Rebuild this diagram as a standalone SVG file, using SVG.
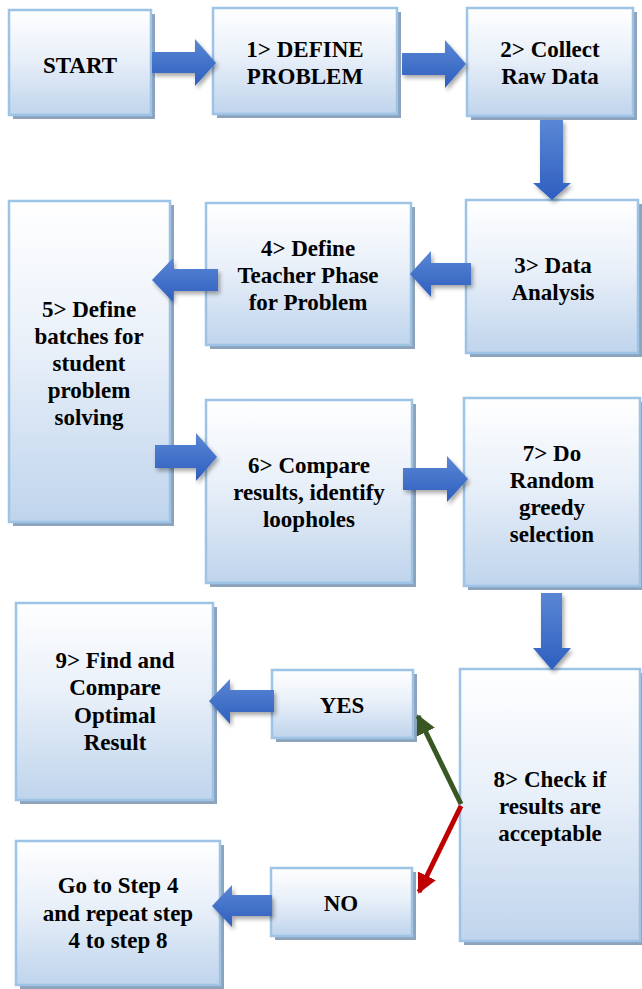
<svg xmlns="http://www.w3.org/2000/svg" width="642" height="989" viewBox="0 0 642 989" font-family="Liberation Serif, Tinos, Noto Serif, DejaVu Serif, Times New Roman, Times, serif">
<defs>
<linearGradient id="boxg" x1="0" y1="0" x2="0" y2="1">
<stop offset="0" stop-color="#ffffff"/>
<stop offset="0.45" stop-color="#e9f0f9"/>
<stop offset="1" stop-color="#bfd4ec"/>
</linearGradient>
<linearGradient id="arrh" x1="0" y1="0" x2="0" y2="1">
<stop offset="0" stop-color="#5a86d4"/>
<stop offset="1" stop-color="#2e5fbf"/>
</linearGradient>
<filter id="sh" x="-20%" y="-20%" width="150%" height="150%">
<feGaussianBlur in="SourceAlpha" stdDeviation="2"/>
<feOffset dx="2" dy="3"/>
<feComponentTransfer><feFuncA type="linear" slope="0.35"/></feComponentTransfer>
<feMerge><feMergeNode/><feMergeNode in="SourceGraphic"/></feMerge>
</filter>
<marker id="mg" viewBox="0 0 10 10" refX="9" refY="5" markerWidth="4" markerHeight="4" orient="auto" markerUnits="strokeWidth">
<path d="M0,0 L10,5 L0,10 z" fill="#385723"/>
</marker>
<marker id="mr" viewBox="0 0 10 10" refX="9" refY="5" markerWidth="4" markerHeight="4" orient="auto" markerUnits="strokeWidth">
<path d="M0,0 L10,5 L0,10 z" fill="#c00000"/>
</marker>
</defs>
<style>
.shadow{fill:#8da2bb}
.box{fill:url(#boxg);stroke:#9dc3e6;stroke-width:2.5}
.t{font-family:"Liberation Serif",Tinos,"Noto Serif","DejaVu Serif","Times New Roman",Times,serif;font-weight:700;font-size:23px;fill:#000;text-anchor:middle}
.ba{fill:url(#arrh);filter:url(#sh)}
</style>
<rect width="642" height="989" fill="#ffffff"/>

<g id="start">
<rect class="shadow" x="13" y="14" width="142" height="105"/>
<rect class="box" x="9" y="10" width="142" height="105"/>
<text class="t" x="80" y="73">START</text>
</g>
<g id="step1">
<rect class="shadow" x="217" y="12" width="184" height="106"/>
<rect class="box" x="213" y="8" width="184" height="106"/>
<text class="t" x="305" y="57">1&gt; DEFINE</text>
<text class="t" x="305" y="84">PROBLEM</text>
</g>
<g id="step2">
<rect class="shadow" x="471" y="12" width="166" height="108"/>
<rect class="box" x="467" y="8" width="166" height="108"/>
<text class="t" x="550" y="57">2&gt; Collect</text>
<text class="t" x="550" y="84">Raw Data</text>
</g>
<g id="step3">
<rect class="shadow" x="470" y="204" width="172" height="153"/>
<rect class="box" x="466" y="200" width="172" height="153"/>
<text class="t" x="553" y="273">3&gt; Data</text>
<text class="t" x="553" y="300">Analysis</text>
</g>
<g id="step4">
<rect class="shadow" x="210" y="207" width="205" height="142"/>
<rect class="box" x="206" y="203" width="205" height="142"/>
<text class="t" x="308" y="256">4&gt; Define</text>
<text class="t" x="308" y="283">Teacher Phase</text>
<text class="t" x="308" y="310">for Problem</text>
</g>
<g id="step5">
<rect class="shadow" x="13" y="205" width="161" height="321"/>
<rect class="box" x="9" y="201" width="161" height="321"/>
<text class="t" x="89" y="317">5&gt; Define</text>
<text class="t" x="89" y="344">batches for</text>
<text class="t" x="89" y="371">student</text>
<text class="t" x="89" y="398">problem</text>
<text class="t" x="89" y="425">solving</text>
</g>
<g id="step6">
<rect class="shadow" x="210" y="404" width="206" height="183"/>
<rect class="box" x="206" y="400" width="206" height="183"/>
<text class="t" x="309" y="473">6&gt; Compare</text>
<text class="t" x="309" y="500">results, identify</text>
<text class="t" x="309" y="527">loopholes</text>
</g>
<g id="step7">
<rect class="shadow" x="468" y="402" width="176" height="188"/>
<rect class="box" x="464" y="398" width="176" height="188"/>
<text class="t" x="552" y="461">7&gt; Do</text>
<text class="t" x="552" y="488">Random</text>
<text class="t" x="552" y="515">greedy</text>
<text class="t" x="552" y="542">selection</text>
</g>
<g id="step8">
<rect class="shadow" x="464" y="673" width="180" height="272"/>
<rect class="box" x="460" y="669" width="180" height="272"/>
<text class="t" x="550" y="787">8&gt; Check if</text>
<text class="t" x="550" y="814">results are</text>
<text class="t" x="550" y="841">acceptable</text>
</g>
<g id="yes">
<rect class="shadow" x="276" y="674" width="141" height="68"/>
<rect class="box" x="272" y="670" width="141" height="68"/>
<text class="t" x="342" y="713">YES</text>
</g>
<g id="no">
<rect class="shadow" x="275" y="872" width="141" height="68"/>
<rect class="box" x="271" y="868" width="141" height="68"/>
<text class="t" x="341" y="911">NO</text>
</g>
<g id="step9">
<rect class="shadow" x="20" y="607" width="197" height="197"/>
<rect class="box" x="16" y="603" width="197" height="197"/>
<text class="t" x="115" y="668">9&gt; Find and</text>
<text class="t" x="115" y="695">Compare</text>
<text class="t" x="115" y="723">Optimal</text>
<text class="t" x="115" y="750">Result</text>
</g>
<g id="goto">
<rect class="shadow" x="20" y="845" width="204" height="144"/>
<rect class="box" x="16" y="841" width="204" height="144"/>
<text class="t" x="118" y="893">Go to Step 4</text>
<text class="t" x="118" y="921">and repeat step</text>
<text class="t" x="118" y="948">4 to step 8</text>
</g>

<g id="connectors">
<path class="ba" d="M152,52 L195,52 L195,39 L216,63 L195,86 L195,73 L152,73 Z"/>
<path class="ba" d="M402,53 L445,53 L445,40 L466,64 L445,88 L445,75 L402,75 Z"/>
<path class="ba" d="M540,120 L563,120 L563,183 L571,183 L552,200 L533,183 L540,183 Z"/>
<path class="ba" d="M471,263 L431,263 L431,251 L410,274 L431,297 L431,285 L471,285 Z"/>
<path class="ba" d="M218,269 L173,269 L173,258 L152,280 L173,302 L173,291 L218,291 Z"/>
<path class="ba" d="M155,445 L196,445 L196,433 L217,457 L196,481 L196,468 L155,468 Z"/>
<path class="ba" d="M403,468 L447,468 L447,456 L468,479 L447,502 L447,490 L403,490 Z"/>
<path class="ba" d="M541,593 L562,593 L562,648 L571,648 L552,670 L533,648 L541,648 Z"/>
<path class="ba" d="M274,690 L230,690 L230,679 L209,701 L230,724 L230,712 L274,712 Z"/>
<path class="ba" d="M272,895 L232,895 L232,885 L212,906 L232,927 L232,916 L272,916 Z"/>
<line x1="461" y1="804" x2="418" y2="716" stroke="#385723" stroke-width="5" marker-end="url(#mg)"/>
<line x1="461" y1="806" x2="419" y2="892" stroke="#c00000" stroke-width="5" marker-end="url(#mr)"/>
</g>
</svg>
